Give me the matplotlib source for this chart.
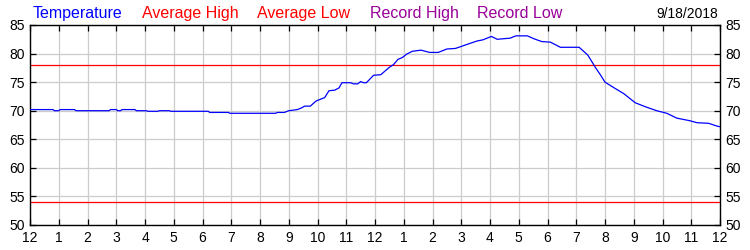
import matplotlib
matplotlib.use("Agg")
import matplotlib.pyplot as plt

plt.rcParams['font.family'] = ['Liberation Sans', 'DejaVu Sans']

hours = [0.0, 0.8, 0.85, 1.0, 1.05, 1.55, 1.6, 2.75, 2.8, 3.0, 3.05, 3.15, 3.2, 3.65, 3.7,
         4.05, 4.1, 4.45, 4.5, 4.85, 4.9, 6.2, 6.25, 6.9, 6.95, 8.55, 8.6, 8.85, 8.9, 9.0,
         9.3, 9.45, 9.55, 9.75, 9.95, 10.1, 10.25, 10.4, 10.6, 10.75, 10.85, 11.15, 11.25,
         11.4, 11.5, 11.6, 11.7, 11.95, 12.2, 12.5, 12.65, 12.8, 12.95, 13.1, 13.3, 13.6,
         13.9, 14.2, 14.5, 14.8, 15.2, 15.55, 15.75, 15.9, 16.05, 16.25, 16.7, 16.9, 17.3,
         17.55, 17.8, 18.1, 18.45, 19.1, 19.4, 19.65, 19.85, 20.0, 20.35, 20.65, 21.05,
         21.4, 21.8, 22.15, 22.5, 22.95, 23.2, 23.6, 23.9, 24.0]
temperature = [70.2, 70.2, 70.0, 70.0, 70.2, 70.2, 70.0, 70.0, 70.2, 70.2, 70.0, 70.0, 70.2, 70.2, 70.0,
               70.0, 69.9, 69.9, 70.0, 70.0, 69.9, 69.9, 69.7, 69.7, 69.55, 69.55, 69.7, 69.7, 69.8, 70.0,
               70.2, 70.5, 70.8, 70.8, 71.7, 72.0, 72.3, 73.5, 73.6, 74.0, 74.9, 74.9, 74.7,
               74.7, 75.1, 74.9, 74.9, 76.2, 76.3, 77.6, 78.1, 79.0, 79.3, 79.9, 80.4, 80.6,
               80.2, 80.2, 80.8, 80.9, 81.6, 82.2, 82.4, 82.7, 83.0, 82.5, 82.7, 83.1, 83.1,
               82.55, 82.1, 82.0, 81.1, 81.1, 79.75, 77.7, 76.2, 75.0, 73.9, 73.0, 71.4,
               70.7, 70.0, 69.55, 68.7, 68.25, 67.9, 67.8, 67.3, 67.2]
average_high = 78.0
average_low = 54.0

x_ticks = list(range(0, 25))
x_labels = ['12'] + [str(i) for i in range(1, 12)] + ['12'] + [str(i) for i in range(1, 12)] + ['12']
y_ticks = [50, 55, 60, 65, 70, 75, 80, 85]

legend_items = ['Temperature', 'Average High', 'Average Low', 'Record High', 'Record Low']
legend_colors = ['#0000FF', '#FF0000', '#FF0000', '#990099', '#990099']
legend_x = [33, 142, 257, 370, 477]
date_label = '9/18/2018'

fig = plt.figure(figsize=(7.5, 2.5), dpi=100)
ax = fig.add_axes([30/750, 25/250, 690/750, 200/250])

ax.plot(hours, temperature, color='#0000FF', lw=0.9, zorder=3)
ax.axhline(average_high, color='#FF0000', lw=0.9, zorder=2)
ax.axhline(average_low, color='#FF0000', lw=0.9, zorder=2)

ax.set_xlim(0, 24)
ax.set_ylim(50, 85)
ax.set_xticks(x_ticks)
ax.set_xticklabels(x_labels)
ax.set_yticks(y_ticks)
ax.grid(True, color='#CCCCCC', lw=0.9, zorder=0)
ax.set_axisbelow(True)
ax.tick_params(direction='in', length=4, width=0.9, top=True, right=True,
               labelright=True, labelsize=10, pad=4, colors='black')
for s in ax.spines.values():
    s.set_linewidth(1.0)
    s.set_color('black')

for name, col, xp in zip(legend_items, legend_colors, legend_x):
    fig.text(xp/750, 1 - 18/250, name, color=col, fontsize=11.5, ha='left', va='baseline')
fig.text(718/750, 1 - 18/250, date_label, color='black', fontsize=10, ha='right', va='baseline')

fig.savefig('out.png', dpi=100)
